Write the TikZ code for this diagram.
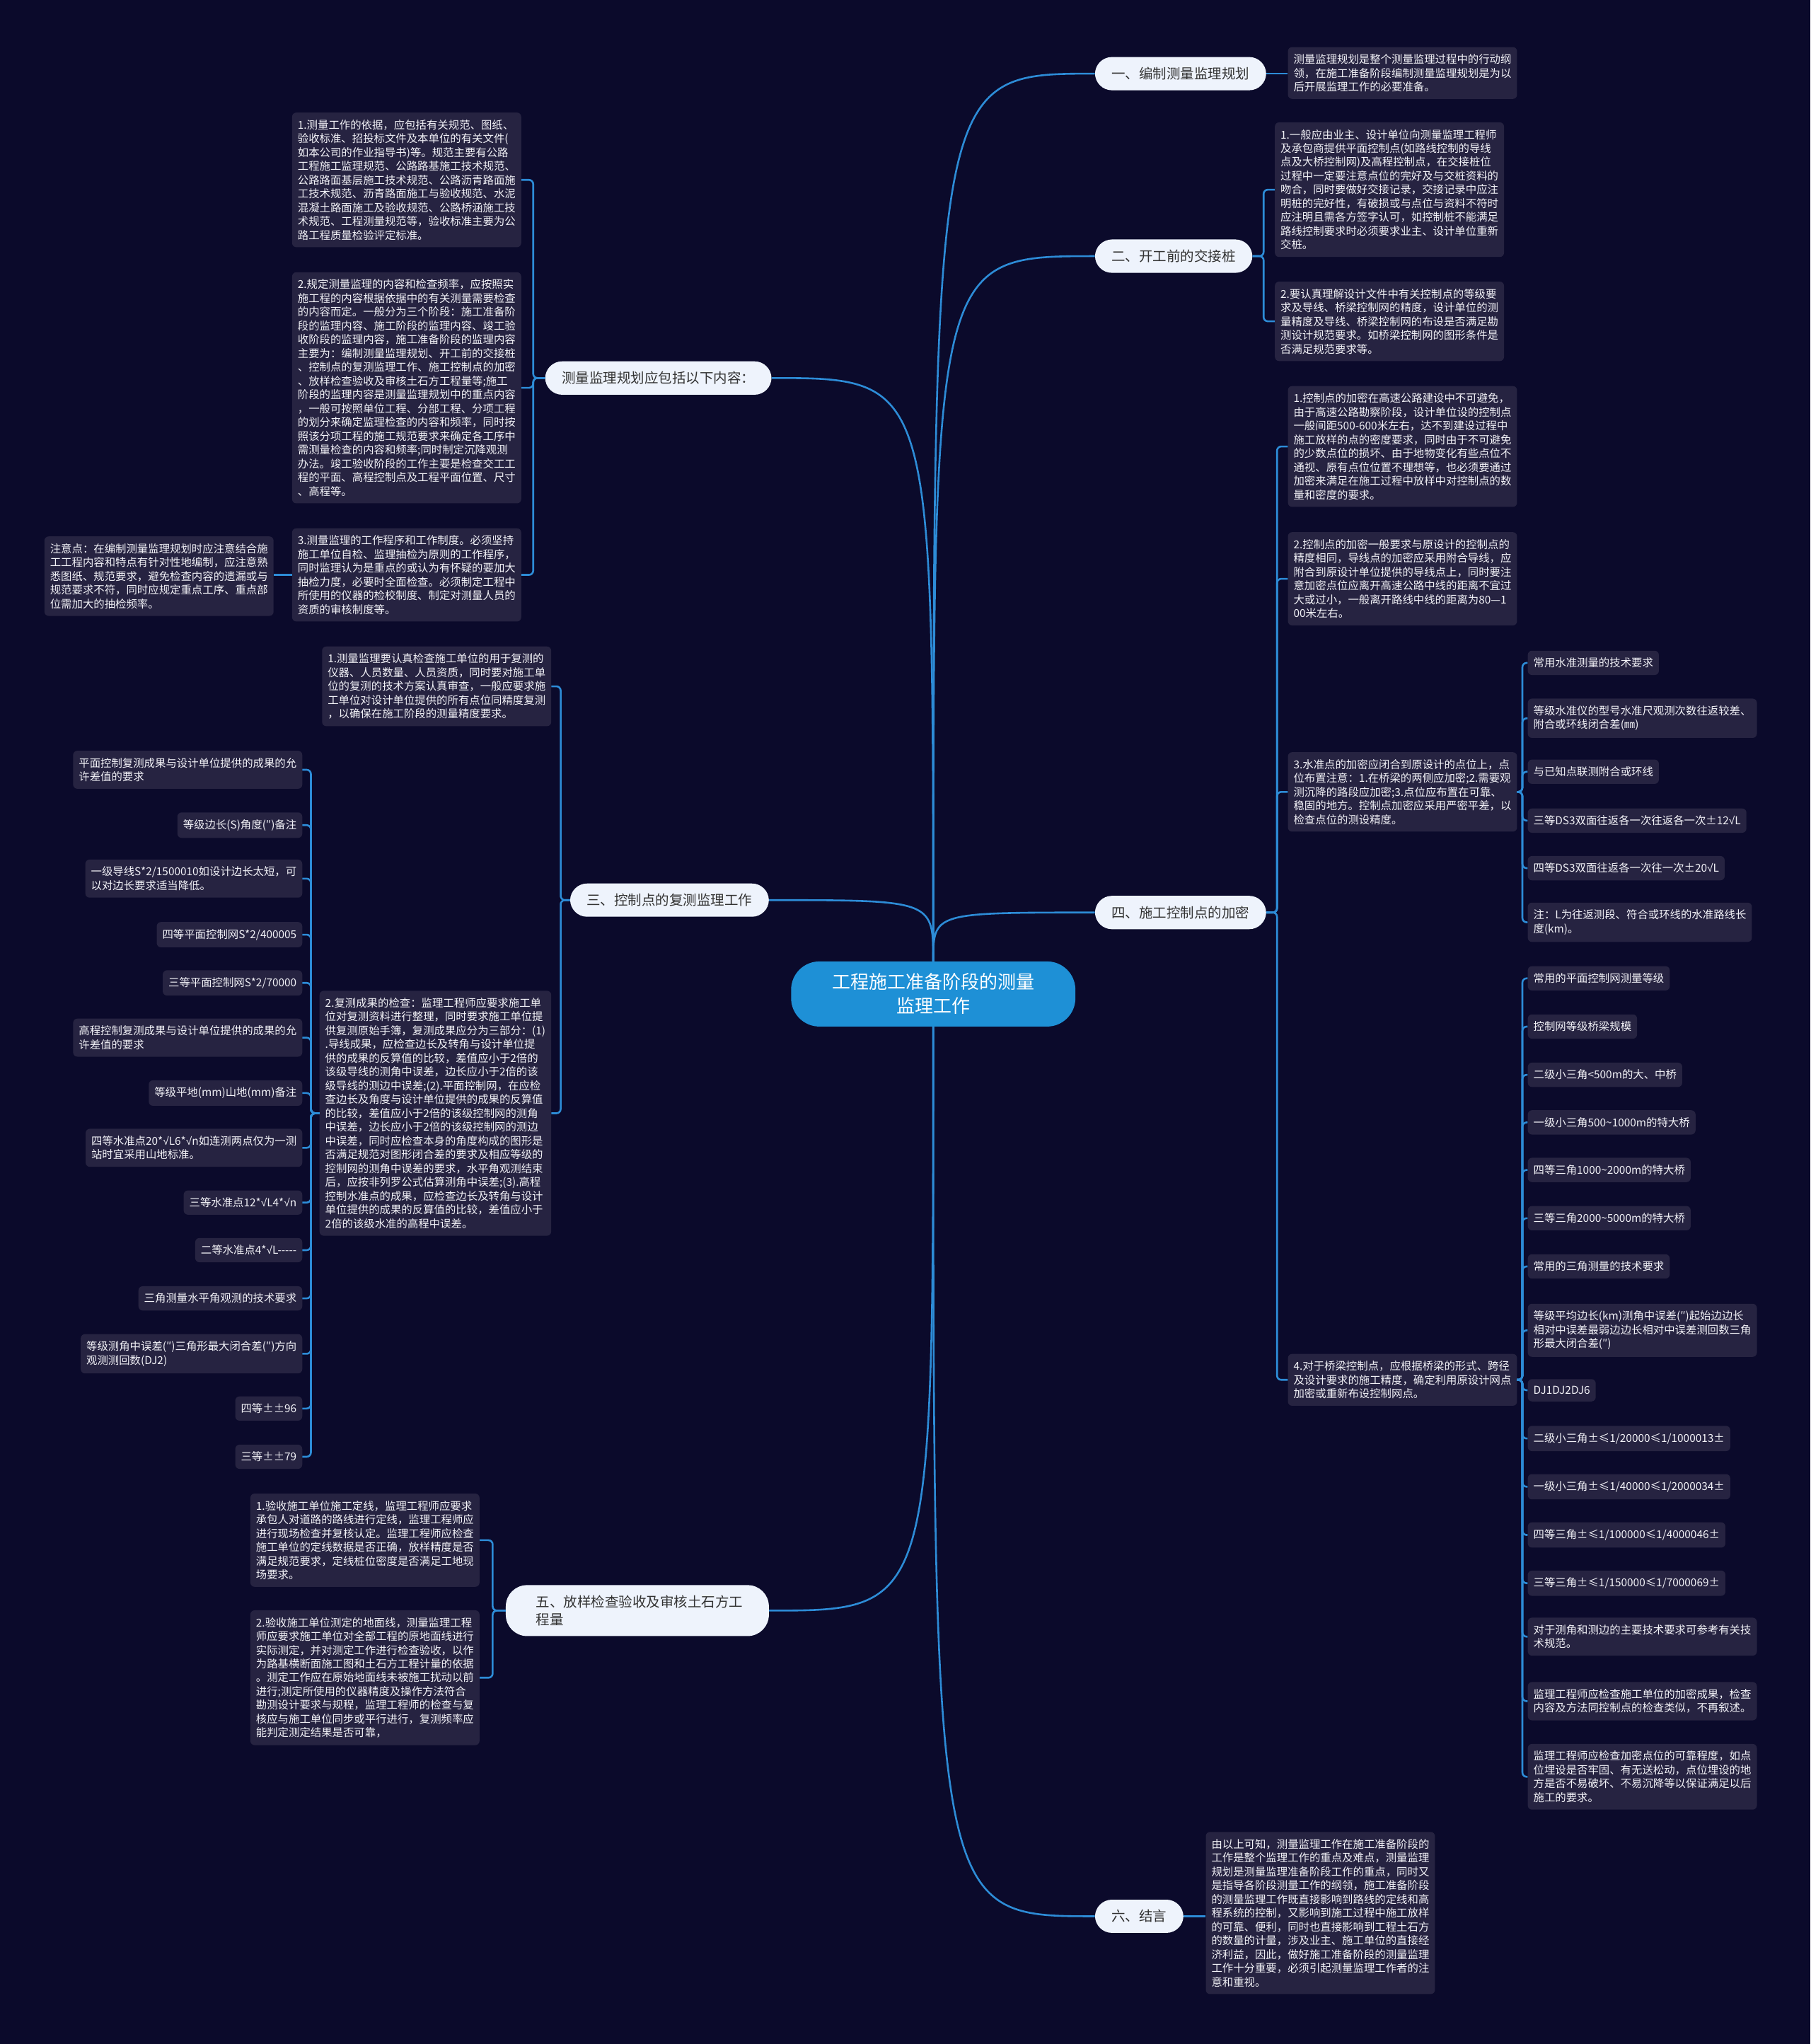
\documentclass[tikz,border=0pt]{standalone}
\usepackage{fontspec}
\setmainfont{Noto Sans CJK SC}
\newfontfamily\symf{Liberation Sans}
\usetikzlibrary{calc}
\definecolor{bgc}{HTML}{0B0A2B}
\definecolor{leafc}{HTML}{262341}
\definecolor{leaft}{HTML}{F2F2F7}
\definecolor{topicc}{HTML}{EEF3FC}
\definecolor{topict}{HTML}{333333}
\definecolor{centc}{HTML}{1E90D6}
\definecolor{connc}{HTML}{2D8CD7}
\newcommand\linkR[2]{\draw[conn] let \p1=(#1.east), \p2=(#2.west) in (\p1) -- (\x1/2+\x2/2,\y1) |- (\p2);}
\newcommand\linkL[2]{\draw[conn] let \p1=(#1.west), \p2=(#2.east) in (\p1) -- (\x1/2+\x2/2,\y1) |- (\p2);}
\newcommand\tld{\textasciitilde}
\newcommand\symsq{{\symf √}}
\begin{document}
\begin{tikzpicture}[x=1.8431pt,y=-1.8431pt,
 leaf/.style={fill=leafc, rounded corners=6pt, text=leaft, font=\fontsize{15.4}{19.5}\selectfont, align=left, inner xsep=8pt, inner ysep=10pt},
 topic/.style={fill=topicc, rounded corners=24pt, text=topict, font=\fontsize{19.5}{25}\selectfont, align=left, inner xsep=23.5pt, inner ysep=14.5pt},
 conn/.style={draw=connc, line width=2.6pt, rounded corners=6pt}]
\useasboundingbox (0,0) rectangle (1389,1568);
\fill[bgc] (0,0) rectangle (1389,1568);

% center
\node[fill=centc, text=white, rounded corners=40pt, font=\fontsize{26}{34}\selectfont, align=center, inner xsep=58pt, inner ysep=17pt] (c) at (716,762.5) {工程施工准备阶段的测量\\监理工作};

% right topics
\node[topic, anchor=west] (n1) at (840,56.5) {一、编制测量监理规划};
\node[topic, anchor=west] (n2) at (840,196.5) {二、开工前的交接桩};
\node[topic, anchor=west] (n4) at (840,700) {四、施工控制点的加密};
\node[topic, anchor=west] (n6) at (840,1470) {六、结言};
% left topics
\node[topic, anchor=east] (nA) at (592,290) {测量监理规划应包括以下内容：};
\node[topic, anchor=east] (n3) at (590,690.5) {三、控制点的复测监理工作};
\node[topic, anchor=east, text width=286pt, inner xsep=43pt, rounded corners=30pt] (n5) at (590,1235.5) {五、放样检查验收及审核土石方工\\程量};

% leaf 1
\node[leaf, anchor=west] (l1) at (988,56) {测量监理规划是整个测量监理过程中的行动纲\\领，在施工准备阶段编制测量监理规划是为以\\后开展监理工作的必要准备。};
% leaf 2
\node[leaf, anchor=west] (l21) at (978,145.5) {1.一般应由业主、设计单位向测量监理工程师\\及承包商提供平面控制点(如路线控制的导线\\点及大桥控制网)及高程控制点，在交接桩位\\过程中一定要注意点位的完好及与交桩资料的\\吻合，同时要做好交接记录，交接记录中应注\\明桩的完好性，有破损或与点位与资料不符时\\应注明且需各方签字认可，如控制桩不能满足\\路线控制要求时必须要求业主、设计单位重新\\交桩。};
\node[leaf, anchor=west] (l22) at (978,246.5) {2.要认真理解设计文件中有关控制点的等级要\\求及导线、桥梁控制网的精度，设计单位的测\\量精度及导线、桥梁控制网的布设是否满足勘\\测设计规范要求。如桥梁控制网的图形条件是\\否满足规范要求等。};
% leaf 4
\node[leaf, anchor=west] (l41) at (988,342.5) {1.控制点的加密在高速公路建设中不可避免，\\由于高速公路勘察阶段，设计单位设的控制点\\一般间距500-600米左右，达不到建设过程中\\施工放样的点的密度要求，同时由于不可避免\\的少数点位的损坏、由于地物变化有些点位不\\通视、原有点位位置不理想等，也必须要通过\\加密来满足在施工过程中放样中对控制点的数\\量和密度的要求。};
\node[leaf, anchor=west] (l42) at (988,444) {2.控制点的加密一般要求与原设计的控制点的\\精度相同，导线点的加密应采用附合导线，应\\附合到原设计单位提供的导线点上，同时要注\\意加密点位应离开高速公路中线的距离不宜过\\大或过小，一般离开路线中线的距离为80—1\\00米左右。};
\node[leaf, anchor=west] (l43) at (988,607.5) {3.水准点的加密应闭合到原设计的点位上，点\\位布置注意：1.在桥梁的两侧应加密;2.需要观\\测沉降的路段应加密;3.点位应布置在可靠、\\稳固的地方。控制点加密应采用严密平差，以\\检查点位的测设精度。};
\node[leaf, anchor=west] (l44) at (988,1058.5) {4.对于桥梁控制点，应根据桥梁的形式、跨径\\及设计要求的施工精度，确定利用原设计网点\\加密或重新布设控制网点。};
% l43 children
\node[leaf, anchor=west] (a1) at (1172,508.5) {常用水准测量的技术要求};
\node[leaf, anchor=west] (a2) at (1172,551) {等级水准仪的型号水准尺观测次数往返较差、\\附合或环线闭合差(㎜)};
\node[leaf, anchor=west] (a3) at (1172,592) {与已知点联测附合或环线};
\node[leaf, anchor=west] (a4) at (1172,629.5) {三等DS3双面往返各一次往返各一次±12\symsq L};
\node[leaf, anchor=west] (a5) at (1172,666) {四等DS3双面往返各一次往一次±20\symsq L};
\node[leaf, anchor=west] (a6) at (1172,707.5) {注：L为往返测段、符合或环线的水准路线长\\度(km)。};
% l44 children
\node[leaf, anchor=west] (b1) at (1172,750.5) {常用的平面控制网测量等级};
\node[leaf, anchor=west] (b2) at (1172,787.5) {控制网等级桥梁规模};
\node[leaf, anchor=west] (b3) at (1172,824.5) {二级小三角<500m的大、中桥};
\node[leaf, anchor=west] (b4) at (1172,861) {一级小三角500\tld1000m的特大桥};
\node[leaf, anchor=west] (b5) at (1172,897.5) {四等三角1000\tld2000m的特大桥};
\node[leaf, anchor=west] (b6) at (1172,934.5) {三等三角2000\tld5000m的特大桥};
\node[leaf, anchor=west] (b7) at (1172,971.5) {常用的三角测量的技术要求};
\node[leaf, anchor=west] (b8) at (1172,1020.5) {等级平均边长(km)测角中误差(″)起始边边长\\相对中误差最弱边边长相对中误差测回数三角\\形最大闭合差(″)};
\node[leaf, anchor=west] (b9) at (1172,1066.5) {DJ1DJ2DJ6};
\node[leaf, anchor=west] (b10) at (1172,1103.5) {二级小三角±≤1/20000≤1/1000013±};
\node[leaf, anchor=west] (b11) at (1172,1140.5) {一级小三角±≤1/40000≤1/2000034±};
\node[leaf, anchor=west] (b12) at (1172,1177.5) {四等三角±≤1/100000≤1/4000046±};
\node[leaf, anchor=west] (b13) at (1172,1214.5) {三等三角±≤1/150000≤1/7000069±};
\node[leaf, anchor=west] (b14) at (1172,1255.5) {对于测角和测边的主要技术要求可参考有关技\\术规范。};
\node[leaf, anchor=west] (b15) at (1172,1305) {监理工程师应检查施工单位的加密成果，检查\\内容及方法同控制点的检查类似，不再叙述。};
\node[leaf, anchor=west] (b16) at (1172,1363) {监理工程师应检查加密点位的可靠程度，如点\\位埋设是否牢固、有无送松动，点位埋设的地\\方是否不易破坏、不易沉降等以保证满足以后\\施工的要求。};
% leaf 6
\node[leaf, anchor=west] (l6) at (925,1467.5) {由以上可知，测量监理工作在施工准备阶段的\\工作是整个监理工作的重点及难点，测量监理\\规划是测量监理准备阶段工作的重点，同时又\\是指导各阶段测量工作的纲领，施工准备阶段\\的测量监理工作既直接影响到路线的定线和高\\程系统的控制，又影响到施工过程中施工放样\\的可靠、便利，同时也直接影响到工程土石方\\的数量的计量，涉及业主、施工单位的直接经\\济利益，因此，做好施工准备阶段的测量监理\\工作十分重要，必须引起测量监理工作者的注\\意和重视。};

% left leaves A
\node[leaf, anchor=east] (lA1) at (400,138) {1.测量工作的依据，应包括有关规范、图纸、\\验收标准、招投标文件及本单位的有关文件(\\如本公司的作业指导书)等。规范主要有公路\\工程施工监理规范、公路路基施工技术规范、\\公路路面基层施工技术规范、公路沥青路面施\\工技术规范、沥青路面施工与验收规范、水泥\\混凝土路面施工及验收规范、公路桥涵施工技\\术规范、工程测量规范等，验收标准主要为公\\路工程质量检验评定标准。};
\node[leaf, anchor=east] (lA2) at (400,297.5) {2.规定测量监理的内容和检查频率，应按照实\\施工程的内容根据依据中的有关测量需要检查\\的内容而定。一般分为三个阶段：施工准备阶\\段的监理内容、施工阶段的监理内容、竣工验\\收阶段的监理内容，施工准备阶段的监理内容\\主要为：编制测量监理规划、开工前的交接桩\\、控制点的复测监理工作、施工控制点的加密\\、放样检查验收及审核土石方工程量等;施工\\阶段的监理内容是测量监理规划中的重点内容\\，一般可按照单位工程、分部工程、分项工程\\的划分来确定监理检查的内容和频率，同时按\\照该分项工程的施工规范要求来确定各工序中\\需测量检查的内容和频率;同时制定沉降观测\\办法。竣工验收阶段的工作主要是检查交工工\\程的平面、高程控制点及工程平面位置、尺寸\\、高程等。};
\node[leaf, anchor=east] (lA3) at (400,441) {3.测量监理的工作程序和工作制度。必须坚持\\施工单位自检、监理抽检为原则的工作程序，\\同时监理认为是重点的或认为有怀疑的要加大\\抽检力度，必要时全面检查。必须制定工程中\\所使用的仪器的检校制度、制定对测量人员的\\资质的审核制度等。};
\node[leaf, anchor=east] (note) at (210,442) {注意点：在编制测量监理规划时应注意结合施\\工工程内容和特点有针对性地编制，应注意熟\\悉图纸、规范要求，避免检查内容的遗漏或与\\规范要求不符，同时应规定重点工序、重点部\\位需加大的抽检频率。};

% left leaves 3
\node[leaf, anchor=east] (l31) at (423,526.5) {1.测量监理要认真检查施工单位的用于复测的\\仪器、人员数量、人员资质，同时要对施工单\\位的复测的技术方案认真审查，一般应要求施\\工单位对设计单位提供的所有点位同精度复测\\，以确保在施工阶段的测量精度要求。};
\node[leaf, anchor=east] (l32) at (423,854) {2.复测成果的检查：监理工程师应要求施工单\\位对复测资料进行整理，同时要求施工单位提\\供复测原始手簿，复测成果应分为三部分：(1)\\.导线成果，应检查边长及转角与设计单位提\\供的成果的反算值的比较，差值应小于2倍的\\该级导线的测角中误差，边长应小于2倍的该\\级导线的测边中误差;(2).平面控制网，在应检\\查边长及角度与设计单位提供的成果的反算值\\的比较，差值应小于2倍的该级控制网的测角\\中误差，边长应小于2倍的该级控制网的测边\\中误差，同时应检查本身的角度构成的图形是\\否满足规范对图形闭合差的要求及相应等级的\\控制网的测角中误差的要求，水平角观测结束\\后，应按非列罗公式估算测角中误差;(3).高程\\控制水准点的成果，应检查边长及转角与设计\\单位提供的成果的反算值的比较，差值应小于\\2倍的该级水准的高程中误差。};
% l32 children
\node[leaf, anchor=east] (d1) at (232,590.5) {平面控制复测成果与设计单位提供的成果的允\\许差值的要求};
\node[leaf, anchor=east] (d2) at (232,633) {等级边长(S)角度(″)备注};
\node[leaf, anchor=east] (d3) at (232,674) {一级导线S*2/1500010如设计边长太短，可\\以对边长要求适当降低。};
\node[leaf, anchor=east] (d4) at (232,717) {四等平面控制网S*2/400005};
\node[leaf, anchor=east] (d5) at (232,754) {三等平面控制网S*2/70000};
\node[leaf, anchor=east] (d6) at (232,796) {高程控制复测成果与设计单位提供的成果的允\\许差值的要求};
\node[leaf, anchor=east] (d7) at (232,838.5) {等级平地(mm)山地(mm)备注};
\node[leaf, anchor=east] (d8) at (232,880.5) {四等水准点20*\symsq L6*\symsq n如连测两点仅为一测\\站时宜采用山地标准。};
\node[leaf, anchor=east] (d9) at (232,922.5) {三等水准点12*\symsq L4*\symsq n};
\node[leaf, anchor=east] (d10) at (232,959) {二等水准点4*\symsq L-\kern0pt-\kern0pt-\kern0pt-\kern0pt-};
\node[leaf, anchor=east] (d11) at (232,996) {三角测量水平角观测的技术要求};
\node[leaf, anchor=east] (d12) at (232,1038.5) {等级测角中误差(″)三角形最大闭合差(″)方向\\观测测回数(DJ2)};
\node[leaf, anchor=east] (d13) at (232,1080.5) {四等±±96};
\node[leaf, anchor=east] (d14) at (232,1117.5) {三等±±79};

% left leaves 5
\node[leaf, anchor=east] (l51) at (368,1181.5) {1.验收施工单位施工定线，监理工程师应要求\\承包人对道路的路线进行定线，监理工程师应\\进行现场检查并复核认定。监理工程师应检查\\施工单位的定线数据是否正确，放样精度是否\\满足规范要求，定线桩位密度是否满足工地现\\场要求。};
\node[leaf, anchor=east] (l52) at (368,1287) {2.验收施工单位测定的地面线，测量监理工程\\师应要求施工单位对全部工程的原地面线进行\\实际测定，并对测定工作进行检查验收，以作\\为路基横断面施工图和土石方工程计量的依据\\。测定工作应在原始地面线未被施工扰动以前\\进行;测定所使用的仪器精度及操作方法符合\\勘测设计要求与规程，监理工程师的检查与复\\核应与施工单位同步或平行进行，复测频率应\\能判定测定结果是否可靠，};

% center connectors
\foreach \t in {n1,n2,n4}{\draw[conn] (c.north) .. controls (c.north |- \t.west) .. (\t.west);}
\foreach \t in {nA,n3}{\draw[conn] (c.north) .. controls (c.north |- \t.east) .. (\t.east);}
\draw[conn] (c.south) .. controls (c.south |- n6.west) .. (n6.west);
\draw[conn] (c.south) .. controls (c.south |- n5.east) .. (n5.east);

% topic to leaves
\draw[conn] (n1.east) -- (n1.east -| l1.west);
\draw[conn] (n6.east) -- (n6.east -| l6.west);
\linkR{n2}{l21}\linkR{n2}{l22}
\foreach \t in {l41,l42,l43,l44}{\linkR{n4}{\t}}
\foreach \t in {a1,a2,a3,a4,a5,a6}{\linkR{l43}{\t}}
\foreach \t in {b1,b2,b3,b4,b5,b6,b7,b8,b9,b10,b11,b12,b13,b14,b15,b16}{\linkR{l44}{\t}}
\foreach \t in {lA1,lA2,lA3}{\linkL{nA}{\t}}
\draw[conn] (lA3.west) -- (lA3.west -| note.east);
\linkL{n3}{l31}\linkL{n3}{l32}
\foreach \t in {d1,d2,d3,d4,d5,d6,d7,d8,d9,d10,d11,d12,d13,d14}{\linkL{l32}{\t}}
\linkL{n5}{l51}\linkL{n5}{l52}
\end{tikzpicture}
\end{document}
